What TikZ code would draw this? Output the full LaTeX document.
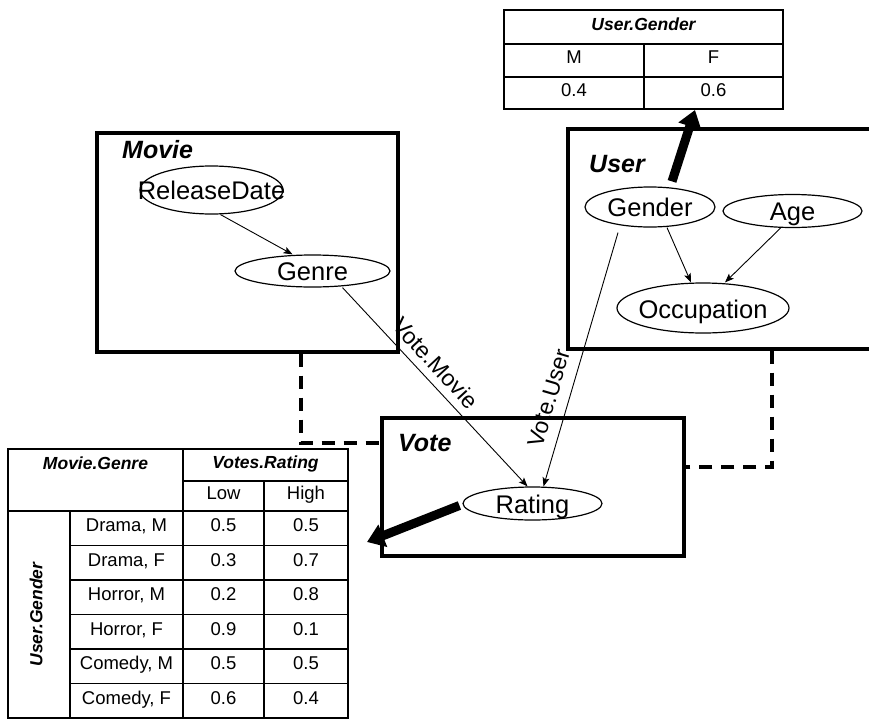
\documentclass[tikz,border=0pt]{standalone}
\usepackage{fontspec}
\setmainfont{Liberation Sans}
\usetikzlibrary{shapes.geometric,arrows.meta}
\begin{document}
\begin{tikzpicture}[x=1pt,y=-1pt,
  frame/.style={draw, line width=3.2pt, rectangle, inner sep=0pt},
  var/.style={ellipse, draw, line width=1.2pt, inner sep=0pt},
  vtext/.style={inner sep=0pt, anchor=base, font=\fontsize{25.5}{25.5}\selectfont},
  edge/.style={-{Stealth[length=9pt,width=7pt,inset=2pt]}, line width=0.9pt},
  bigarrow/.style={line width=9pt, -{Triangle[length=17pt,width=23pt]}},
  dashlink/.style={line width=3.2pt, dash pattern=on 13pt off 9pt},
  title/.style={anchor=base west, inner sep=0pt, font=\fontsize{25}{25}\selectfont\bfseries\itshape},
  elab/.style={inner sep=0pt, font=\fontsize{23}{23}\selectfont},
  tab/.style={line width=1.8pt},
  cell/.style={inner sep=0pt, text height=1.55ex, text depth=0.25ex, font=\fontsize{18.5}{18.5}\selectfont},
  head/.style={inner sep=0pt, text height=1.55ex, text depth=0.25ex, font=\fontsize{17.5}{17.5}\selectfont\bfseries\itshape}
]
\useasboundingbox (0,0) rectangle (869,720);
\clip (0,0) rectangle (869,720);

% ---------- class boxes ----------
\node[frame, minimum width=301pt, minimum height=219pt] (moviebox) at (247.5,242.5) {};
\node[frame, minimum width=307pt, minimum height=220pt] (userbox) at (721.5,239) {};
\node[frame, minimum width=302pt, minimum height=138pt] (votebox) at (533,487) {};

\node[title] (movielab) at (122,158) {Movie};
\node[title] (userlab) at (589,172) {User};
\node[title] (votelab) at (398,451) {Vote};

% ---------- variables ----------
\node[var, minimum width=143pt, minimum height=48pt] (rd) at (211.5,190) {};
\node[vtext] (rdt) at ([yshift=-9pt]rd.center) {ReleaseDate};
\node[var, minimum width=155pt, minimum height=32pt] (genre) at (312.5,271) {};
\node[vtext] (genret) at ([yshift=-9.5pt]genre.center) {Genre};

\node[var, minimum width=130pt, minimum height=40pt] (gender) at (650,207) {};
\node[vtext] (gendert) at ([yshift=-9.5pt]gender.center) {Gender};
\node[var, minimum width=139pt, minimum height=33pt] (age) at (792.5,211) {};
\node[vtext] (aget) at ([yshift=-9.5pt]age.center) {Age};
\node[var, minimum width=172pt, minimum height=50pt] (occ) at (703,308) {};
\node[vtext] (occt) at ([yshift=-10pt]occ.center) {Occupation};

\node[var, minimum width=139pt, minimum height=33pt] (rating) at (532.5,503.5) {};
\node[vtext] (ratingt) at ([yshift=-10pt]rating.center) {Rating};

% ---------- dependencies ----------
\draw[edge] ([xshift=9pt]rd.south) -- ([xshift=-20pt]genre.north);
\draw[edge] ([xshift=17pt]gender.south) -- ([xshift=-12pt]occ.north);
\draw[edge] ([xshift=-12pt]age.south) -- ([xshift=22pt]occ.north);
\draw[edge] ([xshift=30pt]genre.south) -- ([xshift=-5pt]rating.north);
\draw[edge] ([xshift=-32pt,yshift=-5pt]gender.south) -- ([xshift=11pt]rating.north);
\node[elab, rotate=-47.4] (vmlab) at (436,363) {Vote.Movie};
\node[elab, rotate=73.7] (vulab) at (549,398) {Vote.User};

% ---------- dashed links ----------
\coordinate (dl) at (301,443);
\coordinate (dr) at (772,467);
\draw[dashlink] (moviebox.south -| dl) |- (votebox.west |- dl);
\draw[dashlink] (userbox.south -| dr) |- (votebox.east |- dr);

% ---------- table User.Gender ----------
\draw[tab] (504,10) rectangle (783,109);
\draw[tab] (504,44) -- (783,44);
\draw[tab] (504,77) -- (783,77);
\draw[tab] (644,44) -- (644,109);
\node[head] (gh) at (643.5,27) {User.Gender};
\node[cell] (gm) at (574,60.5) {M};
\node[cell] (gf) at (713.5,60.5) {F};
\node[cell] (gm4) at (574,93) {0.4};
\node[cell] (gf6) at (713.5,93) {0.6};
\coordinate (gtab) at (695,110);

% ---------- table Votes.Rating ----------
\draw[tab] (8,449) rectangle (348,718);
\draw[tab] (183,449) -- (183,718);
\draw[tab] (264,481) -- (264,718);
\draw[tab] (183,481) -- (348,481);
\draw[tab] (8,511) -- (348,511);
\draw[tab] (70,511) -- (70,718);
\foreach \yy in {545.5,580,614.5,649,683.5} {\draw[tab] (70,\yy) -- (348,\yy);}
\node[head] (mg) at (95.5,466) {Movie.Genre};
\node[head] (vr) at (265.5,465) {Votes.Rating};
\node[cell] (lo) at (223.5,496) {Low};
\node[cell] (hi) at (306,496) {High};
\node[head, rotate=90] (ug) at (39,614.5) {User.Gender};
\node[cell] (r1a) at (126.5,528.5) {Drama, M};  \node[cell] (r1b) at (223.5,528.5) {0.5}; \node[cell] (r1c) at (306,528.5) {0.5};
\node[cell] (r2a) at (126.5,563) {Drama, F};   \node[cell] (r2b) at (223.5,563) {0.3}; \node[cell] (r2c) at (306,563) {0.7};
\node[cell] (r3a) at (126.5,597.5) {Horror, M}; \node[cell] (r3b) at (223.5,597.5) {0.2}; \node[cell] (r3c) at (306,597.5) {0.8};
\node[cell] (r4a) at (126.5,632) {Horror, F};  \node[cell] (r4b) at (223.5,632) {0.9}; \node[cell] (r4c) at (306,632) {0.1};
\node[cell] (r5a) at (126.5,666.5) {Comedy, M}; \node[cell] (r5b) at (223.5,666.5) {0.5}; \node[cell] (r5c) at (306,666.5) {0.5};
\node[cell] (r6a) at (126.5,701) {Comedy, F};  \node[cell] (r6b) at (223.5,701) {0.6}; \node[cell] (r6c) at (306,701) {0.4};
\coordinate (rtab) at (367,542);

% ---------- CPD arrows ----------
\draw[bigarrow] ([xshift=22pt,yshift=5pt]gender.north) -- (gtab);
\draw[bigarrow] ([xshift=-3pt,yshift=-2pt]rating.west) -- (rtab);
\end{tikzpicture}
\end{document}
